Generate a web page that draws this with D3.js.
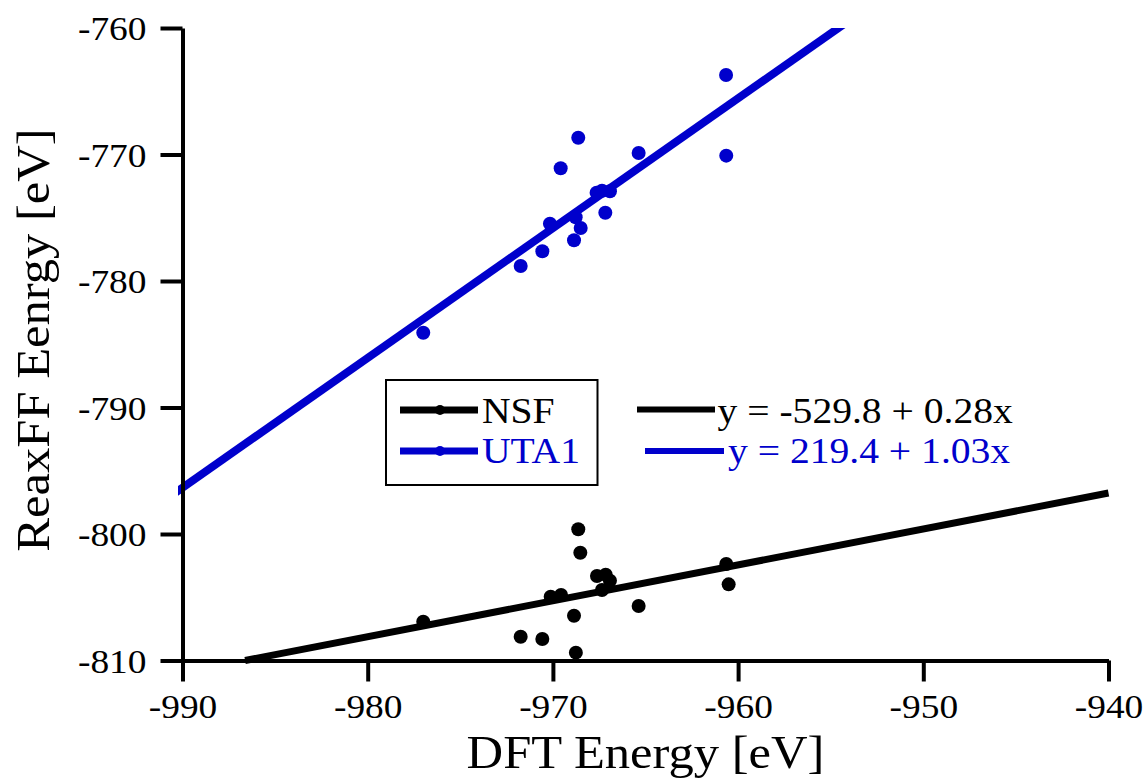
<!DOCTYPE html>
<html>
<head>
<meta charset="utf-8">
<script src="https://cdn.jsdelivr.net/npm/d3@7"></script>
<style>
  html, body { margin: 0; padding: 0; background: #fff; }
  svg { display: block; }
  text { font-family: "Liberation Serif", "Times New Roman", serif; }
</style>
</head>
<body>
<svg id="chart" width="1148" height="782"></svg>
<script>
// DFT vs ReaxFF energies for the two force-field parameterisations
const seriesNames = ["NSF", "UTA1"];
const seriesColors = ["#000000", "#0000cc"];

const dftNSF = [-977.0, -971.74, -970.57, -970.12, -969.56, -968.86, -968.76, -968.63,
                -968.52, -967.62, -967.35, -967.15, -966.92, -965.37, -960.64, -960.51];
const reaxNSF = [-806.93, -808.12, -808.30, -804.96, -804.82, -806.46, -809.38, -799.63,
                 -801.48, -803.32, -804.43, -803.22, -803.69, -805.69, -802.37, -803.98];

const dftUTA1 = [-977.0, -971.74, -970.57, -970.16, -969.58, -968.86, -968.77, -968.63,
                 -968.50, -967.64, -967.35, -967.17, -966.92, -965.37, -960.64, -960.65];
const reaxUTA1 = [-784.09, -778.81, -777.65, -775.47, -771.09, -776.78, -774.96, -768.67,
                  -775.81, -773.02, -772.86, -774.60, -772.91, -769.88, -770.09, -763.72];

// Linear fits: y = intercept + slope * x
const fitIntercepts = [-529.8, 219.4];
const fitSlopes = [0.284, 1.026];

const xTicks = [-990, -980, -970, -960, -950, -940];
const yTicks = [-810, -800, -790, -780, -770, -760];
const xTitle = "DFT Energy [eV]";
const yTitle = "ReaxFF Eenrgy [eV]";

const W = 1148, H = 782;
const margin = { left: 182.5, top: 28, right: 39.5, bottom: 121.5 };
const stretch = 1.1;

const svg = d3.select("#chart");

const x = d3.scaleLinear().domain([xTicks[0], xTicks[xTicks.length - 1]])
  .range([margin.left, W - margin.right]);
const y = d3.scaleLinear().domain([yTicks[0], yTicks[yTicks.length - 1]])
  .range([H - margin.bottom, margin.top]);

const series = [
  { name: seriesNames[0], color: seriesColors[0], xs: dftNSF, ys: reaxNSF,
    a: fitIntercepts[0], b: fitSlopes[0], lw: 7 },
  { name: seriesNames[1], color: seriesColors[1], xs: dftUTA1, ys: reaxUTA1,
    a: fitIntercepts[1], b: fitSlopes[1], lw: 8 }
];

// fit segment limited to the axis box; ends leaving through the top or
// left edge run a little further and are trimmed by the clip rectangle
function fitSegment(a, b) {
  const [x0, x1] = x.domain();
  const [y0, y1] = y.domain();
  const xAtY0 = (y0 - a) / b, xAtY1 = (y1 - a) / b;
  const xa = Math.max(x0, Math.min(xAtY0, xAtY1));
  const xb = Math.min(x1, Math.max(xAtY0, xAtY1));
  const pa = [x(xa), y(a + b * xa)], pb = [x(xb), y(a + b * xb)];
  const len = Math.hypot(pb[0] - pa[0], pb[1] - pa[1]);
  const ux = (pb[0] - pa[0]) / len, uy = (pb[1] - pa[1]) / len;
  const ext = 20;
  const onTopOrLeft = (p) => Math.abs(p[1] - y(y1)) < 0.5 || Math.abs(p[0] - x(x0)) < 0.5;
  if (onTopOrLeft(pa)) { pa[0] -= ux * ext; pa[1] -= uy * ext; }
  if (onTopOrLeft(pb)) { pb[0] += ux * ext; pb[1] += uy * ext; }
  return [pa, pb];
}

svg.append("defs").append("clipPath").attr("id", "fitClip")
  .append("rect")
  .attr("x", x.range()[0] - 4.5).attr("y", y.range()[1])
  .attr("width", W).attr("height", H);

const plot = svg.append("g");

// regression lines
series.forEach(s => {
  plot.append("path")
    .attr("d", d3.line()(fitSegment(s.a, s.b)))
    .attr("clip-path", "url(#fitClip)")
    .attr("fill", "none")
    .attr("stroke", s.color)
    .attr("stroke-width", s.lw)
    .attr("stroke-linecap", "butt");
});

// data points
series.forEach(s => {
  plot.append("g").selectAll("circle")
    .data(s.xs.map((v, i) => [v, s.ys[i]]))
    .join("circle")
    .attr("cx", d => x(d[0]))
    .attr("cy", d => y(d[1]))
    .attr("r", 7)
    .attr("fill", s.color);
});

// axes
const xAxis = svg.append("g")
  .attr("transform", `translate(0,${y.range()[0]})`)
  .call(d3.axisBottom(x).tickValues(xTicks).tickSize(21).tickSizeOuter(0)
    .tickFormat(d => String(d)));
const yAxis = svg.append("g")
  .attr("transform", `translate(${x.range()[0]},0)`)
  .call(d3.axisLeft(y).tickValues(yTicks).tickSize(22).tickSizeOuter(0)
    .tickFormat(d => String(d)));

[xAxis, yAxis].forEach(ax => {
  ax.select(".domain").attr("stroke", "#000").attr("stroke-width", 4);
  ax.selectAll(".tick line").attr("stroke", "#000").attr("stroke-width", 4);
  ax.selectAll(".tick text")
    .attr("fill", "#000")
    .attr("font-family", "'Liberation Serif', 'Times New Roman', serif")
    .attr("font-size", 34);
});
xAxis.selectAll(".tick text")
  .attr("y", 57.5).attr("dy", 0)
  .attr("transform", `scale(${stretch},1)`);
yAxis.selectAll(".tick text")
  .attr("x", -36 / stretch).attr("dy", "0.34em")
  .attr("transform", `scale(${stretch},1)`);

// helper for horizontally stretched serif text
function label(g, str, px, py, opts = {}) {
  return g.append("text")
    .attr("transform", `translate(${px},${py})${opts.rotate ? ` rotate(${opts.rotate})` : ""} scale(${stretch},1)`)
    .attr("text-anchor", opts.anchor || "start")
    .attr("font-size", opts.size || 36)
    .attr("fill", opts.color || "#000")
    .text(str);
}

// axis titles
label(svg, xTitle, (x.range()[0] + x.range()[1]) / 2, 768, { anchor: "middle", size: 46 });
label(svg, yTitle, 49, 340, { anchor: "middle", size: 46, rotate: -90 });

// legend for series
const leg = svg.append("g");
leg.append("rect")
  .attr("x", 386).attr("y", 380).attr("width", 211.5).attr("height", 105)
  .attr("fill", "#fff").attr("stroke", "#000").attr("stroke-width", 2);

const legRowsY = [410, 451];
const legBase = [423, 463];
series.forEach((s, i) => {
  leg.append("line")
    .attr("x1", 400).attr("x2", 478)
    .attr("y1", legRowsY[i]).attr("y2", legRowsY[i])
    .attr("stroke", s.color).attr("stroke-width", 7);
  leg.append("circle")
    .attr("cx", 440).attr("cy", legRowsY[i]).attr("r", 5)
    .attr("fill", s.color);
  label(leg, s.name, 482, legBase[i], { color: s.color, size: 36 });
});

// legend for fitted equations
const eqLineX = [[637, 715], [645, 724]];
const eqTextX = [717.5, 728];
const eqLineY = [409.5, 451];
const fmtSlope = d3.format(".2f");
series.forEach((s, i) => {
  leg.append("line")
    .attr("x1", eqLineX[i][0]).attr("x2", eqLineX[i][1])
    .attr("y1", eqLineY[i]).attr("y2", eqLineY[i])
    .attr("stroke", s.color).attr("stroke-width", 6);
  label(leg, `y = ${String(s.a)} + ${fmtSlope(s.b)}x`, eqTextX[i], legBase[i],
    { color: s.color, size: 36 });
});
</script>
</body>
</html>
